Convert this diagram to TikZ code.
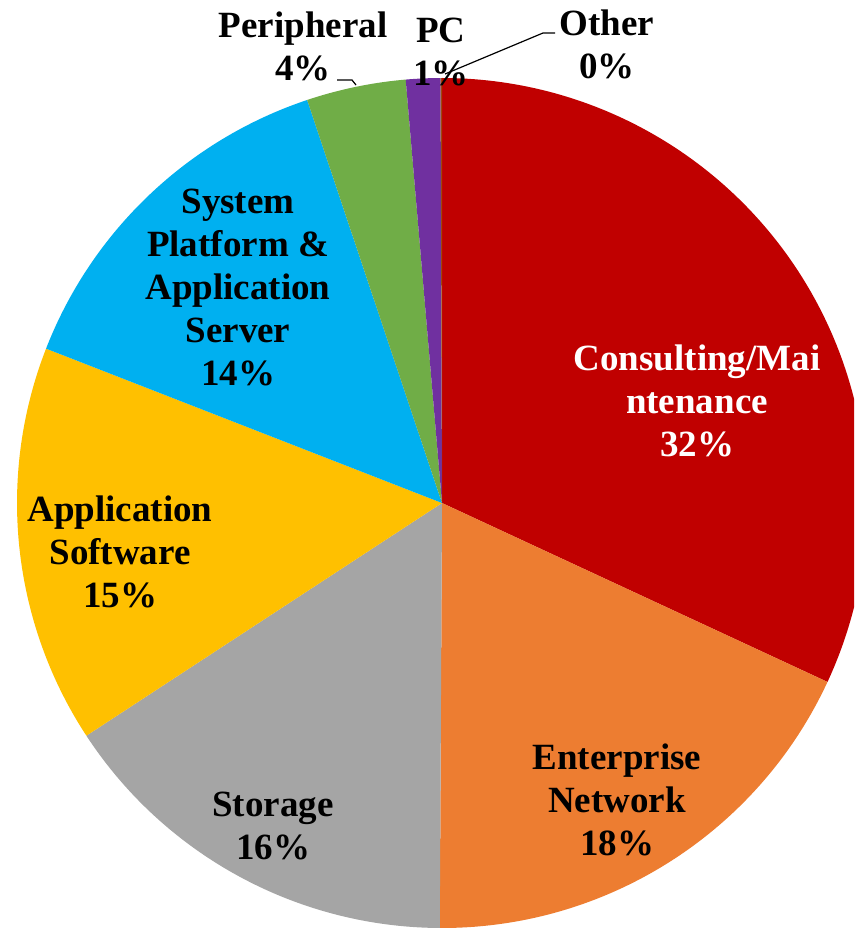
\documentclass[tikz,border=0pt]{standalone}
\usepackage{fontspec}
\setmainfont{Liberation Serif}
\definecolor{consult}{HTML}{C00000}
\definecolor{enterp}{HTML}{ED7D31}
\definecolor{storg}{HTML}{A5A5A5}
\definecolor{appsoft}{HTML}{FFC000}
\definecolor{sysplat}{HTML}{00B0F0}
\definecolor{periph}{HTML}{70AD47}
\definecolor{pcol}{HTML}{7030A0}
\definecolor{othr}{HTML}{9E480E}
\tikzset{
  lbl/.style={align=center, font=\bfseries\fontsize{37}{43}\selectfont, inner sep=0pt},
  leader/.style={draw=black, line width=1.2pt},
}
\newcommand{\pieslice}[3]{%
  \fill[#3] (ctr) -- ++(#1:425) arc[start angle=#1, end angle=#2, radius=425] -- cycle;}
\begin{document}
\begin{tikzpicture}[x=1pt,y=1pt]
\useasboundingbox (0,0) rectangle (854,-928);
\clip (0,0) rectangle (854,-928);
\coordinate (ctr) at (442,-503);
% slices, clockwise from twelve o'clock
\pieslice{90}{-24.9}{consult}
\pieslice{-24.9}{-90.3}{enterp}
\pieslice{-90.3}{-146.8}{storg}
\pieslice{-146.8}{-201.3}{appsoft}
\pieslice{-201.3}{-251.5}{sysplat}
\pieslice{-251.5}{-265.1}{periph}
\pieslice{-265.1}{-269.8}{pcol}
\pieslice{-269.8}{-270}{othr}
% data labels
\node[lbl, text=white] (cons) at (697,-401) {Consulting/Mai\\ntenance\\32\%};
\node[lbl] (ent) at (617,-800) {Enterprise\\Network\\18\%};
\node[lbl] (stor) at (273,-826) {Storage\\16\%};
\node[lbl] (appsw) at (120,-552) {Application\\Software\\15\%};
\node[lbl] (sysp) at (238,-287) {System\\Platform \&\\Application\\Server\\14\%};
\node[lbl] (peri) at (303,-46) {Peripheral\\4\%};
\node[lbl] (pc) at (441,-52) {PC\\1\%};
\node[lbl] (other) at (607,-44) {Other\\0\%};
% leader lines
\coordinate (perA) at (337,-80);
\coordinate (perB) at (352,-80);
\coordinate (perC) at (356,-85);
\coordinate (othA) at (555,-33);
\coordinate (othB) at (543,-33);
\coordinate (othC) at (445,-74);
\draw[leader] (perA) -- (perB) -- (perC);
\draw[leader] (othA) -- (othB) -- (othC);
\end{tikzpicture}
\end{document}
